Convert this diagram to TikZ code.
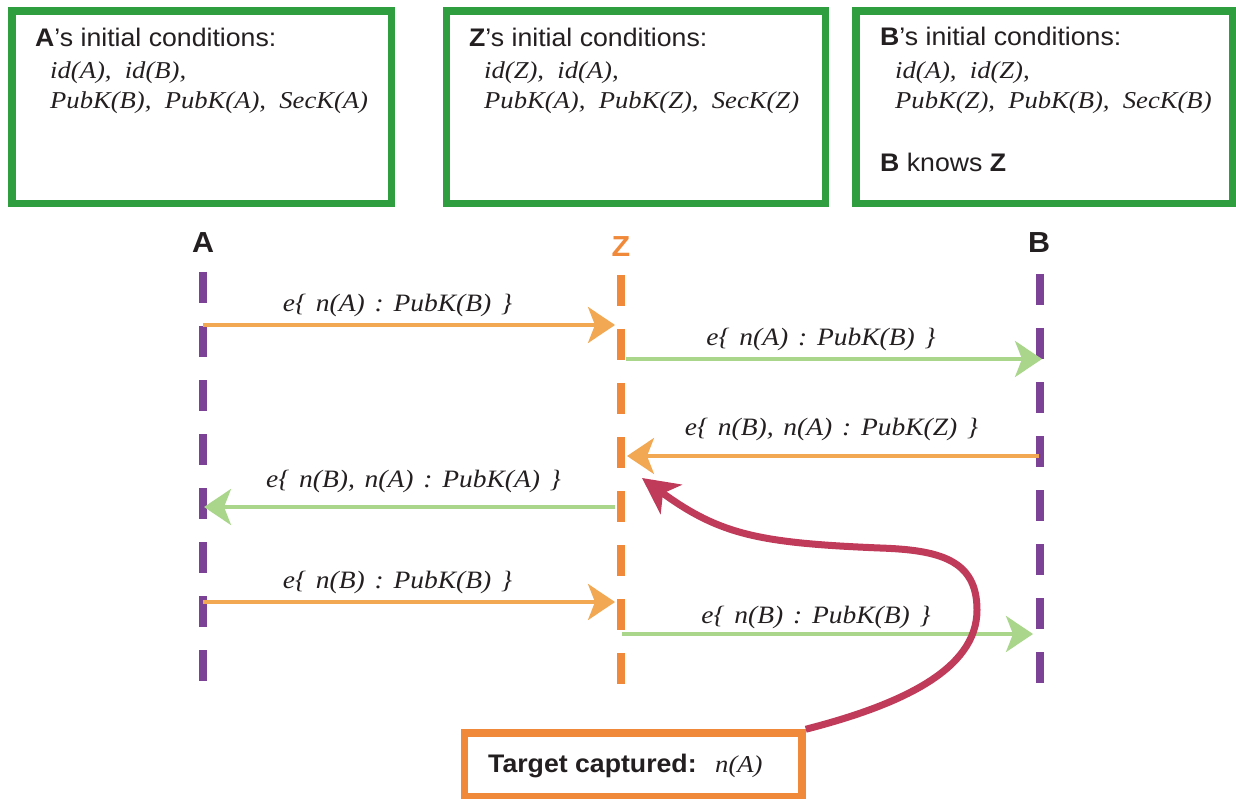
\documentclass[tikz,border=0pt]{standalone}
\usepackage{fontspec}
\setmainfont{Liberation Serif}
\newfontfamily\headfont{Liberation Sans}[FakeStretch=1.05]
\newfontfamily\termfont{Liberation Serif}[FakeStretch=1.1]
\usetikzlibrary{arrows.meta}

% message labels: italic terms with roomier word spaces
\newcommand\msgfont{\termfont\itshape\fontsize{25}{30}\selectfont\spaceskip 9.8pt\relax}

\definecolor{ink}{HTML}{231F20}
\definecolor{boxgreen}{HTML}{2E9E3E}
\definecolor{lifepurple}{HTML}{7C4296}
\definecolor{zorange}{HTML}{F08A3A}
\definecolor{msgorange}{HTML}{F2A852}
\definecolor{msggreen}{HTML}{AAD68C}
\definecolor{capturered}{HTML}{C03A5A}

\tikzset{
  condbox/.style={draw=boxgreen, line width=7.5pt, fill=white, inner sep=0pt},
  condhead/.style={anchor=base west, inner sep=0pt, text=ink,
    font=\headfont\fontsize{25.4}{30}\selectfont},
  condterm/.style={anchor=base west, inner sep=0pt, text=ink,
    font=\termfont\itshape\fontsize{24.2}{30}\selectfont},
  lifehead/.style={anchor=base, inner sep=0pt, text=ink,
    font=\headfont\bfseries\fontsize{29}{32}\selectfont},
  lifeline/.style={line width=7.5pt, dash pattern=on 31pt off 23pt},
  msgtip/.style={-{Stealth[length=27pt, width=36pt, inset=7pt]}},
  msgorange/.style={msgtip, draw=msgorange, fill=msgorange, line width=3.5pt},
  msggreen/.style={msgtip, draw=msggreen, fill=msggreen, line width=3.5pt},
  msglabel/.style={anchor=base, inner sep=0pt, text=ink, font=\msgfont},
  capture/.style={draw=capturered, line width=7pt,
    -{Stealth[length=36pt, width=36pt, inset=10pt]}},
}

\begin{document}
\begin{tikzpicture}[x=1pt, y=-1pt]
\useasboundingbox (0,0) rectangle (1236,799);

% ---- initial-condition boxes ----
\node[condbox, minimum width=379.5pt, minimum height=192.5pt] (boxA) at (201.75,107.25) {};
\node[condhead] (boxAhead) at (35,47) {\textbf{A}’s initial conditions:};
\node[condterm] (boxAids)  at (50,79) {id(A),\ \ id(B),};
\node[condterm] (boxAkeys) at (50,109) {PubK(B),\ \ PubK(A),\ \ SecK(A)};

\node[condbox, minimum width=379pt, minimum height=192.5pt] (boxZ) at (636,107.25) {};
\node[condhead] (boxZhead) at (469,47) {\textbf{Z}’s initial conditions:};
\node[condterm] (boxZids)  at (484,79) {id(Z),\ \ id(A),};
\node[condterm] (boxZkeys) at (484,109) {PubK(A),\ \ PubK(Z),\ \ SecK(Z)};

\node[condbox, minimum width=376.3pt, minimum height=192.5pt] (boxB) at (1044.15,107.25) {};
\node[condhead] (boxBhead) at (880,46) {\textbf{B}’s initial conditions:};
\node[condterm] (boxBids)  at (895,79) {id(A),\ \ id(Z),};
\node[condterm] (boxBkeys) at (895,109) {PubK(Z),\ \ PubK(B),\ \ SecK(B)};
\node[condhead] (boxBnote) at (880,172) {\textbf{B} knows \textbf{Z}};

% ---- participants and lifelines ----
\node[lifehead] (labA) at (203,253) {A};
\node[lifehead, text=zorange] (labZ) at (621,257) {Z};
\node[lifehead] (labB) at (1039,253) {B};

\coordinate (Atop) at (203,272);  \coordinate (Abot) at (203,681);
\coordinate (Ztop) at (621,275);  \coordinate (Zbot) at (621,684);
\coordinate (Btop) at (1040,274); \coordinate (Bbot) at (1040,683);

\draw[lifeline, draw=lifepurple] (Atop) -- (Abot);
\draw[lifeline, draw=zorange]    (Ztop) -- (Zbot);
\draw[lifeline, draw=lifepurple] (Btop) -- (Bbot);

% ---- message end points ----
\coordinate (m1s) at (203,325);  \coordinate (m1e) at (615,325);
\coordinate (m2s) at (626,359);  \coordinate (m2e) at (1042,359);
\coordinate (m3s) at (1039,456); \coordinate (m3e) at (627,456);
\coordinate (m4s) at (615,507);  \coordinate (m4e) at (204,507);
\coordinate (m5s) at (203,602);  \coordinate (m5e) at (615,602);
\coordinate (m6s) at (622,634);  \coordinate (m6e) at (1033,634);

% ---- messages ----
\draw[msgorange] (m1s) -- (m1e);
\node[msglabel] (lbl1) at (397.5,312) {e\{ n(A) : PubK(B) \}};

\draw[msggreen] (m2s) -- (m2e);
\node[msglabel] (lbl2) at (821,345) {e\{ n(A) : PubK(B) \}};

\draw[msgorange] (m3s) -- (m3e);
\node[msglabel] (lbl3) at (831.5,435) {e\{ n(B), n(A) : PubK(Z) \}};

\draw[msggreen] (m4s) -- (m4e);
\node[msglabel] (lbl4) at (413.5,487) {e\{ n(B), n(A) : PubK(A) \}};

\draw[msgorange] (m5s) -- (m5e);
\node[msglabel] (lbl5) at (397.5,588) {e\{ n(B) : PubK(B) \}};

\draw[msggreen] (m6s) -- (m6e);
\node[msglabel] (lbl6) at (816,623) {e\{ n(B) : PubK(B) \}};

% ---- captured target ----
\node[draw=zorange, line width=7.5pt, fill=white, minimum width=337.5pt,
      minimum height=64pt, inner sep=0pt] (target) at (633.25,765) {};
\node[condhead, font=\headfont\bfseries\fontsize{25.4}{30}\selectfont] (targettext) at (488,772) {Target captured:};
\node[condterm] (targetvalue) at (715,772) {n(A)};

\coordinate (hit) at (642,478);
\draw[capture] (target.north east)
  .. controls (900,705) and (977,670) .. (977,610)
  .. controls (977,560) and (940,550) .. (880,548)
  .. controls (760,543) and (720,535) .. (hit);
\end{tikzpicture}
\end{document}
